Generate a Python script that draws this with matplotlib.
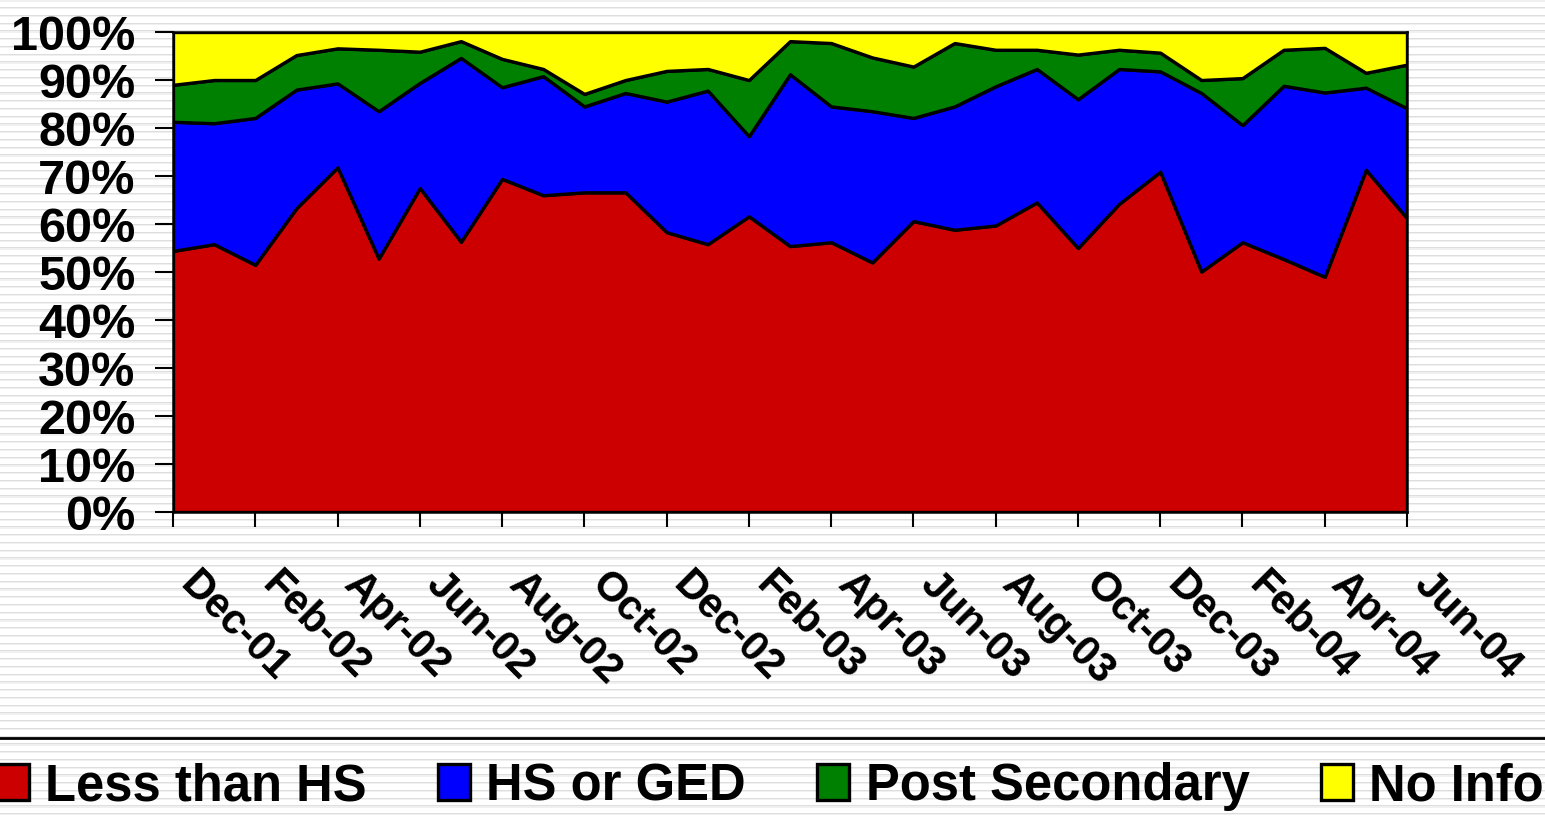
"""Stacked area chart of monthly education level shares, Dec-01 to Jun-04."""

import matplotlib

matplotlib.use("Agg")
import matplotlib.pyplot as plt
import numpy as np
from matplotlib.lines import Line2D
from matplotlib.ticker import FuncFormatter
from matplotlib.transforms import ScaledTranslation

months = [
    "Dec-01", "Jan-02", "Feb-02", "Mar-02", "Apr-02", "May-02", "Jun-02",
    "Jul-02", "Aug-02", "Sep-02", "Oct-02", "Nov-02", "Dec-02", "Jan-03",
    "Feb-03", "Mar-03", "Apr-03", "May-03", "Jun-03", "Jul-03", "Aug-03",
    "Sep-03", "Oct-03", "Nov-03", "Dec-03", "Jan-04", "Feb-04", "Mar-04",
    "Apr-04", "May-04", "Jun-04",
]

# share of clients (%) in each education group, per month
less_than_hs = [
    54.4, 55.8, 51.5, 63.3, 71.8, 52.8, 67.5, 56.3, 69.4, 66.0, 66.6,
    66.6, 58.3, 55.8, 61.6, 55.4, 56.2, 52.0, 60.6, 58.8, 59.7, 64.5,
    55.0, 64.2, 70.9, 50.1, 56.2, 52.7, 49.0, 71.3, 61.2,
]
hs_or_ged = [
    26.9, 25.2, 30.6, 24.7, 17.5, 30.7, 21.9, 38.3, 19.1, 24.8, 17.9,
    20.7, 27.2, 32.0, 16.7, 35.8, 28.3, 31.5, 21.5, 25.7, 29.0, 27.8,
    31.0, 28.1, 20.9, 37.2, 24.4, 36.1, 38.4, 17.1, 22.9,
]
post_secondary = [
    7.7, 9.0, 7.9, 7.2, 7.3, 12.8, 6.5, 3.5, 5.9, 1.5, 2.6,
    2.7, 6.4, 4.5, 11.7, 6.9, 13.2, 11.2, 10.7, 13.2, 7.6, 4.0,
    9.3, 4.0, 3.9, 2.7, 9.8, 7.5, 9.3, 3.1, 9.1,
]
no_info = [
    11.0, 10.0, 10.0, 4.8, 3.4, 3.7, 4.1, 1.9, 5.6, 7.7, 12.9,
    10.0, 8.1, 7.7, 10.0, 1.9, 2.3, 5.3, 7.2, 2.3, 3.7, 3.7,
    4.7, 3.7, 4.3, 10.0, 9.6, 3.7, 3.3, 8.5, 6.8,
]

series_names = ["Less than HS", "HS or GED", "Post Secondary", "No Info"]
series_colors = ["#CC0000", "#0000FF", "#008000", "#FFFF00"]
y_ticks = [0, 10, 20, 30, 40, 50, 60, 70, 80, 90, 100]

plt.rcParams["font.family"] = ["Liberation Sans", "DejaVu Sans"]
plt.rcParams["font.weight"] = "bold"

fig = plt.figure(figsize=(15.45, 8.2), dpi=100)

# striped slide background
rows = np.arange(820)
phase = np.mod(rows, 7.75)
stripe = np.where(phase < 1.0, 0.87, np.where(phase < 2.2, 0.94, 1.0))
bg_img = np.tile(stripe[:, None], (1, 40))
bg = fig.add_axes([0, 0, 1, 1], zorder=-10)
bg.imshow(bg_img, aspect="auto", cmap="gray", vmin=0, vmax=1,
          interpolation="nearest", extent=[0, 1, 0, 1])
bg.axis("off")

ax = fig.add_axes([173 / 1545, 1 - 513 / 820, 1234 / 1545, 480 / 820])
ax.patch.set_visible(False)

x = np.arange(len(months))
polys = ax.stackplot(
    x, less_than_hs, hs_or_ged, post_secondary, no_info,
    colors=series_colors, labels=series_names,
    edgecolor="black", linewidth=2.4,
)

ax.set_xlim(0, len(months) - 1)
ax.set_ylim(0, 100)
ax.set_yticks(y_ticks)
ax.yaxis.set_major_formatter(FuncFormatter(lambda v, _: f"{v:.0f}%"))
ax.set_xticks(x[::2])
ax.set_xticklabels(months[::2])

for side in ax.spines.values():
    side.set_linewidth(1.8)
    side.set_color("black")

ax.tick_params(axis="y", length=13, width=1.5, pad=14, labelsize=35)
ax.tick_params(axis="x", length=11, width=1.5, pad=26, labelsize=30)

shift = ScaledTranslation(0.27, 0, fig.dpi_scale_trans)
for lbl in ax.get_xticklabels():
    lbl.set_rotation(-45)
    lbl.set_rotation_mode("anchor")
    lbl.set_ha("left")
    lbl.set_va("top")
    lbl.set_transform(lbl.get_transform() + shift)

# rule above the legend
fig.add_artist(Line2D([0, 1], [1 - 739 / 820, 1 - 739 / 820],
                      transform=fig.transFigure, color="black", linewidth=2))

fig.legend(
    handles=polys, labels=series_names,
    loc="center left", bbox_to_anchor=(-0.002, 1 - 787 / 820),
    ncol=4, frameon=False, fontsize=36.5, borderpad=0, borderaxespad=0,
    handlelength=0.63, handleheight=0.72, handletextpad=0.32,
    columnspacing=1.41,
)

fig.savefig("out.png", dpi=100)
plt.close(fig)
